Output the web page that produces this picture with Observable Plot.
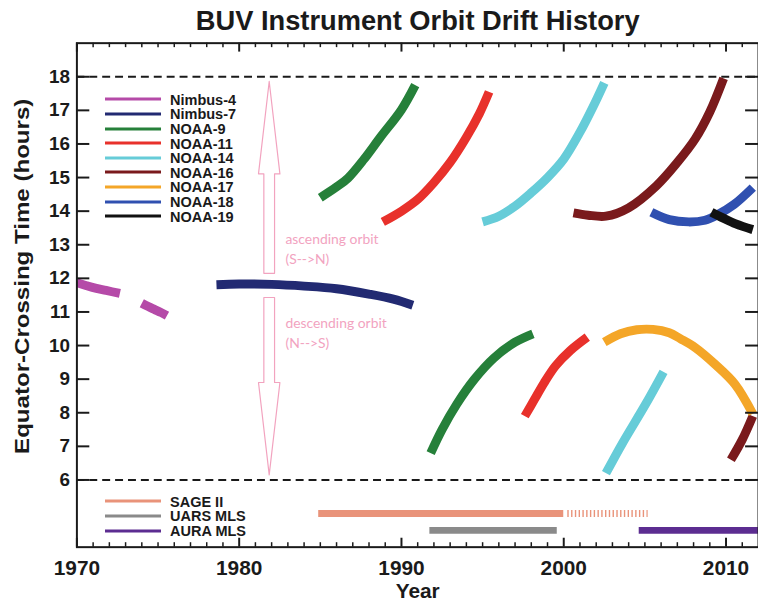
<!DOCTYPE html>
<html><head><meta charset="utf-8">
<script src="https://cdn.jsdelivr.net/npm/d3@7"></script>
<script src="https://cdn.jsdelivr.net/npm/@observablehq/plot@0.6"></script>
<style>
html,body{margin:0;padding:0;background:#fff;overflow:hidden}
#wrap{position:relative;width:758px;height:603px;overflow:hidden;font-family:"Liberation Sans",Arial,Helvetica,sans-serif}
.legend{position:absolute;left:105px;font-weight:bold;font-size:14.5px;color:#1a1a1a}
.row{position:absolute;left:0;display:flex;align-items:center;white-space:nowrap;height:15px;transform:translateY(-50%)}
.sw{width:56px;height:3px;margin-right:9px}
</style></head><body><div id="wrap"></div>
<script>
// ---- Legend categories ----
const satellites = ["Nimbus-4","Nimbus-7","NOAA-9","NOAA-11","NOAA-14","NOAA-16","NOAA-17","NOAA-18","NOAA-19"];
const satColors  = ["#b54aa8","#222a72","#26803a","#e8312b","#66ccd8","#7a1a1c","#f4a628","#3050b0","#111111"];
const instruments = ["SAGE II","UARS MLS","AURA MLS"];
const instrColors = ["#e9937a","#8a8a8a","#5c2d91"];

// ---- Orbit drift segments: [year, equator-crossing hour] ----
const nimbus4A = [[1970.0,11.87],[1970.6,11.78],[1971.2,11.70],[1971.8,11.64],[1972.65,11.55]];
const nimbus4B = [[1974.0,11.26],[1974.4,11.16],[1974.8,11.07],[1975.2,10.98],[1975.55,10.89]];
const nimbus7  = [[1978.6,11.81],[1980.0,11.83],[1982.0,11.82],[1984.0,11.77],[1986.0,11.69],[1988.0,11.53],[1989.5,11.38],[1990.7,11.2]];
const noaa9Asc = [[1985.0,14.4],[1986.0,14.72],[1986.7,14.98],[1987.7,15.55],[1988.7,16.2],[1990.0,17.02],[1990.85,17.75]];
const noaa9Desc= [[1991.8,6.8],[1992.5,7.5],[1993.4,8.25],[1994.5,9.0],[1995.7,9.63],[1997.0,10.1],[1998.1,10.35]];
const noaa11Asc= [[1988.85,13.68],[1990.0,14.0],[1991.0,14.35],[1992.0,14.85],[1993.0,15.45],[1994.0,16.2],[1994.8,16.9],[1995.4,17.55]];
const noaa11Desc=[[1997.6,7.9],[1998.2,8.4],[1998.8,8.9],[1999.5,9.4],[2000.4,9.85],[2001.45,10.25]];
const noaa14Asc= [[1995.0,13.68],[1996.0,13.85],[1997.0,14.15],[1998.0,14.55],[1999.0,15.0],[2000.0,15.55],[2001.0,16.35],[2001.8,17.1],[2002.5,17.82]];
const noaa14Desc=[[2002.6,6.2],[2003.6,7.08],[2005.05,8.26],[2006.15,9.22]];
const noaa16Asc= [[2000.6,13.95],[2001.5,13.88],[2002.6,13.85],[2004.0,14.1],[2005.7,14.75],[2007.0,15.45],[2008.1,16.15],[2009.0,16.95],[2009.85,17.95]];
const noaa16Desc=[[2010.3,6.6],[2011.0,7.2],[2011.65,7.9]];
const noaa17Desc=[[2002.5,10.1],[2003.5,10.35],[2004.5,10.47],[2005.5,10.48],[2006.5,10.38],[2007.2,10.2],[2008.1,9.94],[2009.33,9.44],[2010.55,8.85],[2011.65,7.97]];
const noaa18Asc= [[2005.4,13.97],[2006.5,13.75],[2007.7,13.68],[2008.7,13.73],[2009.5,13.9],[2010.5,14.2],[2011.65,14.7]];
const noaa19Asc= [[2009.1,13.97],[2009.8,13.8],[2010.6,13.62],[2011.65,13.45]];

const segments = [
  ["Nimbus-4",nimbus4A],["Nimbus-4",nimbus4B],["Nimbus-7",nimbus7],
  ["NOAA-9",noaa9Asc],["NOAA-9",noaa9Desc],["NOAA-11",noaa11Asc],["NOAA-11",noaa11Desc],
  ["NOAA-14",noaa14Asc],["NOAA-14",noaa14Desc],["NOAA-16",noaa16Asc],["NOAA-16",noaa16Desc],
  ["NOAA-17",noaa17Desc],["NOAA-18",noaa18Asc],["NOAA-19",noaa19Asc]
];

// ---- Limb instrument coverage ----
const instrStart = [1984.9, 1991.75, 2004.65];
const instrEnd   = [2000.0, 1999.6, 2012.0];
const instrLevel = [5.0, 4.5, 4.5];
const sageReduced = [2000.25, 2005.2];

// ---- Ticks ----
const yTicks = [6,7,8,9,10,11,12,13,14,15,16,17,18];
const xMajor = [1970,1980,1990,2000,2010];
const xMinor = d3.range(1971, 2012).filter(y => y % 10 !== 0);
const boundaryHours = [6, 18];

// ---- Annotations ----
const arrowX = 1981.85;
const arrowSpans = [[12.15, 17.86],[11.43, 6.15]];
const notes = [
  {x:1982.85, y:13.02, t:"ascending orbit"},
  {x:1982.85, y:12.43, t:"(S-->N)"},
  {x:1982.85, y:10.52, t:"descending orbit"},
  {x:1982.85, y:9.93,  t:"(N-->S)"}
];

// ---- build tables ----
const rows = [];
segments.forEach(([sat, pts], k) => pts.forEach(([year, hour]) => rows.push({sat, seg:k, year, hour})));
const bars = instruments.map((name,i) => ({name, x1:instrStart[i], x2:instrEnd[i], y:instrLevel[i], c:instrColors[i]}));
const headLen = 2.75, headHalf = 0.66, shaftHalf = 0.33;
const arrowPts = [];
arrowSpans.forEach(([y0,y1], k) => {
  const dir = Math.sign(y1 - y0), hb = y1 - dir*headLen;
  [[arrowX-shaftHalf,y0],[arrowX-shaftHalf,hb],[arrowX-headHalf,hb],[arrowX,y1],
   [arrowX+headHalf,hb],[arrowX+shaftHalf,hb],[arrowX+shaftHalf,y0],[arrowX-shaftHalf,y0]]
    .forEach(([x,y]) => arrowPts.push({k,x,y}));
});

const W = 764, H = 603, ML = 77, MR = 0, MT = 43, MB = 52;
const plotW = W - ML - MR, plotH = H - MT - MB;
const pink = "#f2a3bf";
const font = "'Liberation Sans', Arial, Helvetica, sans-serif";
const yTitle = "Equator-Crossing Time (hours)";

const chart = Plot.plot({
  width: W, height: H, marginLeft: ML, marginRight: MR, marginTop: MT, marginBottom: MB,
  style: {fontFamily: font, color: "#1a1a1a", background: "white", overflow: "visible"},
  x: {domain: [1970, 2012]},
  y: {domain: [4, 19]},
  color: {domain: satellites, range: satColors},
  marks: [
    Plot.ruleY(boundaryHours, {stroke:"#1a1a1a", strokeWidth:2, strokeDasharray:"8,5"}),
    Plot.line(arrowPts, {x:"x", y:"y", z:"k", stroke:pink, strokeWidth:1.2, fill:"none"}),
    Plot.text(notes, {x:"x", y:"y", text:"t", textAnchor:"start", lineAnchor:"bottom", fill:pink, fontSize:14, fontFamily:"Lato, 'Open Sans', sans-serif"}),
    Plot.line(rows, {x:"year", y:"hour", z:"seg", stroke:"sat", strokeWidth:9, curve:"catmull-rom", strokeLinecap:"butt", clip:true}),
    Plot.ruleY(bars, {x1:"x1", x2:"x2", y:"y", stroke:"c", strokeWidth:7, clip:true}),
    Plot.ruleY([instrLevel[0]], {x1:sageReduced[0], x2:sageReduced[1], stroke:instrColors[0], strokeWidth:7, strokeDasharray:"1.4,2.4"}),
    // frame & inward ticks
    Plot.frame({stroke:"#1a1a1a", strokeWidth:2}),
    Plot.tickY(yTicks, {y:d=>d, insetRight: plotW-13, strokeWidth:2}),
    Plot.tickY(yTicks, {y:d=>d, insetLeft: plotW-13, strokeWidth:2}),
    Plot.tickX(xMajor, {x:d=>d, insetTop: plotH-9, strokeWidth:2}),
    Plot.tickX(xMinor, {x:d=>d, insetTop: plotH-4.5, strokeWidth:1.5}),
    Plot.tickX(xMajor, {x:d=>d, insetBottom: plotH-9, strokeWidth:2}),
    Plot.tickX(xMinor, {x:d=>d, insetBottom: plotH-4.5, strokeWidth:1.5}),
    Plot.axisY({ticks: yTicks, tickSize:0, tickPadding:7, label:null, fontSize:19, fontWeight:"bold"}),
    Plot.axisX({ticks: xMajor, tickSize:0, tickPadding:13, tickFormat:"d", label:null, fontSize:21, fontWeight:"bold"}),
    Plot.text(["Year"], {frameAnchor:"bottom", lineAnchor:"bottom", dy:51.5, fontSize:21, fontWeight:"bold"}),
    Plot.text([yTitle], {frameAnchor:"left", textAnchor:"middle", lineAnchor:"middle", rotate:-90, dx:-55, dy:-19, fontSize:21, fontWeight:"bold"}),
    Plot.text(["BUV Instrument Orbit Drift History"], {frameAnchor:"top", lineAnchor:"top", dy:-33, fontSize:27.5, fontWeight:"bold"})
  ]
});

// the original y-axis title is set in a wider face: stretch to its measured length
chart.querySelectorAll("text").forEach(t => {
  if (t.textContent === yTitle) {
    t.setAttribute("textLength", 358);
    t.setAttribute("lengthAdjust", "spacingAndGlyphs");
  }
});

const wrap = document.getElementById("wrap");
wrap.appendChild(chart);

function addLegend(names, colors, top0, step) {
  const lg = document.createElement("div");
  lg.className = "legend";
  lg.style.top = "0px";
  names.forEach((n,i) => {
    const r = document.createElement("div");
    r.className = "row";
    r.style.top = (top0 + i*step) + "px";
    const s = document.createElement("div");
    s.className = "sw"; s.style.background = colors[i];
    const t = document.createElement("span");
    t.textContent = n;
    r.appendChild(s); r.appendChild(t);
    lg.appendChild(r);
  });
  wrap.appendChild(lg);
}
addLegend(satellites, satColors, 99.3, 14.6);
addLegend(instruments, instrColors, 501, 14.8);
</script></body></html>
